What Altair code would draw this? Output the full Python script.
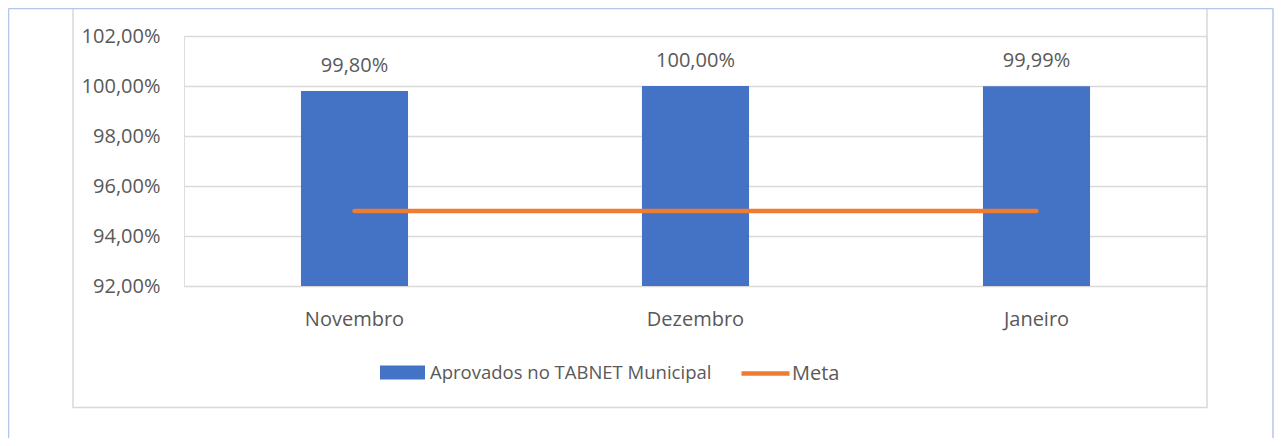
import altair as alt
import pandas as pd

meses = ["Novembro", "Dezembro", "Janeiro"]
aprovados = [0.9980, 1.0000, 0.9999]
meta = [0.95, 0.95, 0.95]
serie_barra = "Aprovados no TABNET Municipal"
serie_meta = "Meta"
y_ticks = [0.92, 0.94, 0.96, 0.98, 1.00, 1.02]

FONT = "Open Sans"
TXT = "#595959"
W, H = 1023, 250

df = pd.DataFrame({"mes": meses, "valor": aprovados, "meta": meta,
                   "s1": [serie_barra] * 3, "s2": [serie_meta] * 3})
deco = pd.DataFrame({"k": [0]})

x_enc = alt.X("mes:N", sort=meses, title=None,
              scale=alt.Scale(paddingInner=0.686, paddingOuter=0.343),
              axis=alt.Axis(labelFont=FONT, labelFontSize=20, labelColor=TXT,
                            labelPadding=23, ticks=False, domain=False, labelAngle=0))
y_scale = alt.Scale(domain=[0.92, 1.02], zero=False, nice=False)

base = alt.Chart(df)

bars = base.mark_bar(color="#4472C4").encode(
    x=x_enc,
    y=alt.Y("valor:Q", scale=y_scale, title=None,
            axis=alt.Axis(values=y_ticks, labelFont=FONT, labelFontSize=20, labelColor=TXT,
                          labelPadding=24, ticks=False, domain=False,
                          gridColor="#D9D9D9", gridWidth=1.3,
                          labelExpr="replace(format(datum.value, '.2%'), '.', ',')")),
    y2=alt.datum(0.92),
    color=alt.Color("s1:N", scale=alt.Scale(domain=[serie_barra], range=["#4472C4"]),
                    legend=alt.Legend(orient="none", legendX=195, legendY=313, title=None,
                                      symbolType="M-1,-0.31L1,-0.31L1,0.31L-1,0.31Z",
                                      symbolSize=2025, symbolOpacity=1,
                                      labelFont=FONT, labelFontSize=18.5, labelColor=TXT,
                                      labelOffset=4, labelLimit=0)),
)

labels = base.transform_calculate(
    lab="replace(format(datum.valor, '.2%'), '.', ',')"
).mark_text(font=FONT, fontSize=20, color=TXT, baseline="middle", dy=-25).encode(
    x=alt.X("mes:N", sort=meses),
    y=alt.Y("valor:Q", scale=y_scale),
    text="lab:N",
)

line = base.mark_line(strokeWidth=4.5, strokeCap="round").encode(
    x=alt.X("mes:N", sort=meses),
    y=alt.Y("meta:Q", scale=y_scale),
    stroke=alt.Stroke("s2:N", scale=alt.Scale(domain=[serie_meta], range=["#ED7D31"]),
                      legend=alt.Legend(orient="none", legendX=555, legendY=311, title=None,
                                        symbolType="stroke", symbolSize=2304,
                                        symbolStrokeWidth=4.5,
                                        labelFont=FONT, labelFontSize=20, labelColor=TXT,
                                        labelOffset=0, labelLimit=0)),
)

inner_box = alt.Chart(deco).mark_rect(fill="transparent", stroke="#D9D9D9", strokeWidth=1.5).encode(
    x=alt.value(-111), x2=alt.value(W), y=alt.value(-29), y2=alt.value(371.5))

blue_top = alt.Chart(deco).mark_rule(color="#B4C7E7", strokeWidth=1.5).encode(
    x=alt.value(-175.5), x2=alt.value(W + 66), y=alt.value(-27.5), y2=alt.value(-27.5))
blue_left = alt.Chart(deco).mark_rule(color="#B4C7E7", strokeWidth=1.5).encode(
    x=alt.value(-175.5), x2=alt.value(-175.5), y=alt.value(-27.5), y2=alt.value(H + 152))
blue_right = alt.Chart(deco).mark_rule(color="#B4C7E7", strokeWidth=1.5).encode(
    x=alt.value(W + 66), x2=alt.value(W + 66), y=alt.value(-27.5), y2=alt.value(H + 152))

chart = alt.layer(inner_box, blue_top, blue_left, blue_right, bars, line, labels).resolve_scale(
    color="independent"
).properties(
    width=W, height=H,
    padding={"left": 176, "top": 28, "right": 67, "bottom": 152},
    autosize=alt.AutoSizeParams(type="none"),
).configure_view(strokeWidth=0).configure(background="white")

chart.save("out.html", embed_options={"renderer": "svg", "actions": False})
